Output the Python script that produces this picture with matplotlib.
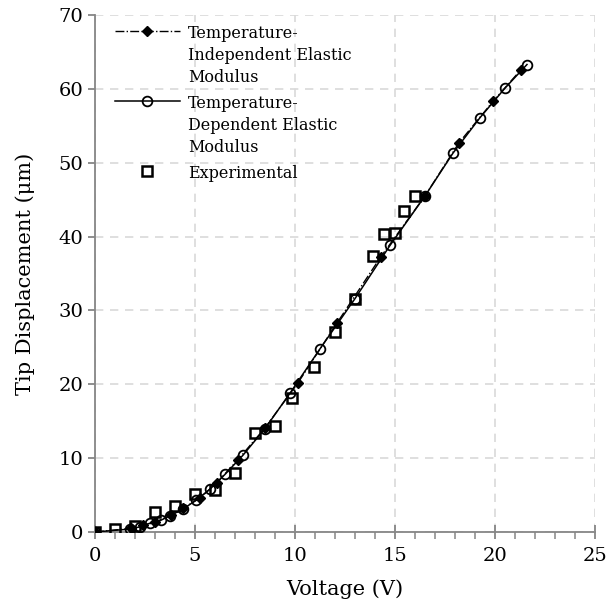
import matplotlib
matplotlib.use('Agg')
import matplotlib.pyplot as plt
from matplotlib.ticker import MultipleLocator

# dados
volt_indep = [0, 1.8, 2.4, 3.0, 3.8, 4.4, 5.25, 6.1, 7.15, 8.5, 10.15, 12.1, 14.3, 16.5, 18.2, 19.9, 21.3]
tip_indep = [0, 0.5, 0.9, 1.3, 2.3, 3.2, 4.6, 6.7, 9.8, 14.1, 20.2, 28.3, 37.3, 45.5, 52.7, 58.3, 62.6]

volt_dep = [0, 1.75, 2.25, 2.75, 3.3, 3.75, 4.4, 5.05, 5.75, 6.5, 7.4, 8.5, 9.75, 11.25, 13.0, 14.75, 16.5, 17.9, 19.25, 20.5, 21.6]
tip_dep = [0, 0.4, 0.7, 1.2, 1.6, 2.2, 3.1, 4.3, 5.8, 7.8, 10.4, 14.0, 18.8, 24.8, 31.6, 38.8, 45.5, 51.3, 56.1, 60.1, 63.3]

volt_exp = [0, 1.0, 2.0, 3.0, 4.0, 5.0, 6.0, 7.0, 8.0, 9.0, 9.85, 10.95, 12.0, 13.0, 13.9, 14.45, 15.0, 15.45, 16.0]
tip_exp = [0, 0.4, 0.8, 2.7, 3.5, 5.1, 5.7, 8.0, 13.4, 14.3, 18.1, 22.4, 27.1, 31.6, 37.4, 40.3, 40.5, 43.5, 45.5]

labels = ['Temperature-\nIndependent Elastic\nModulus',
          'Temperature-\nDependent Elastic\nModulus',
          'Experimental']

plt.rcParams['font.family'] = 'DejaVu Serif'

fig = plt.figure(figsize=(6.07, 6.06), dpi=100)
ax = fig.add_axes([0.1565, 0.1221, 0.8237, 0.8531])

ax.plot(volt_indep, tip_indep, color='black', ls='-.', lw=1, marker='D',
        ms=5.5, mfc='black', mec='black', label=labels[0], zorder=3)
ax.plot(volt_dep, tip_dep, color='black', ls='-', lw=1.1, marker='o',
        ms=7, mfc='none', mec='black', mew=1.3, label=labels[1], zorder=4)
ax.plot(volt_exp, tip_exp, ls='none', marker='s', ms=7.5, mfc='none',
        mec='black', mew=1.8, label=labels[2], zorder=5)

ax.set_xlim(0, 25)
ax.set_ylim(0, 70)
ax.xaxis.set_major_locator(MultipleLocator(5))
ax.xaxis.set_minor_locator(MultipleLocator(1))
ax.yaxis.set_major_locator(MultipleLocator(10))

ax.grid(True, which='major', color='#d9d9d9', ls=(0, (5, 4)), lw=1.2, zorder=0)
ax.set_axisbelow(True)

for s in ['top', 'right']:
    ax.spines[s].set_visible(False)
for s in ['left', 'bottom']:
    ax.spines[s].set_color('#868686')
    ax.spines[s].set_linewidth(1.3)

ax.tick_params(axis='x', which='major', direction='inout', length=10, width=1.3,
               color='#868686', labelsize=14, pad=6)
ax.tick_params(axis='x', which='minor', direction='out', length=5, width=1.1,
               color='#868686')
ax.tick_params(axis='y', which='major', direction='out', length=5, width=1.3,
               color='#868686', labelsize=14)

ax.set_xlabel('Voltage (V)', fontsize=15, labelpad=10)
ax.set_ylabel('Tip Displacement (μm)', fontsize=15, labelpad=17)

leg = ax.legend(loc='upper left', bbox_to_anchor=(0.02, 1.0), frameon=False,
                fontsize=11.5, handlelength=4.1, handleheight=1.0, numpoints=1,
                labelspacing=0.55, handletextpad=0.5, borderaxespad=0.2)
for t in leg.get_texts():
    t.set_linespacing(1.4)
# marcador alinhado com a primeira linha do texto
for col in leg._legend_handle_box.get_children():
    for row in col.get_children():
        row.align = 'top'

fig.savefig('out.png', dpi=100)
